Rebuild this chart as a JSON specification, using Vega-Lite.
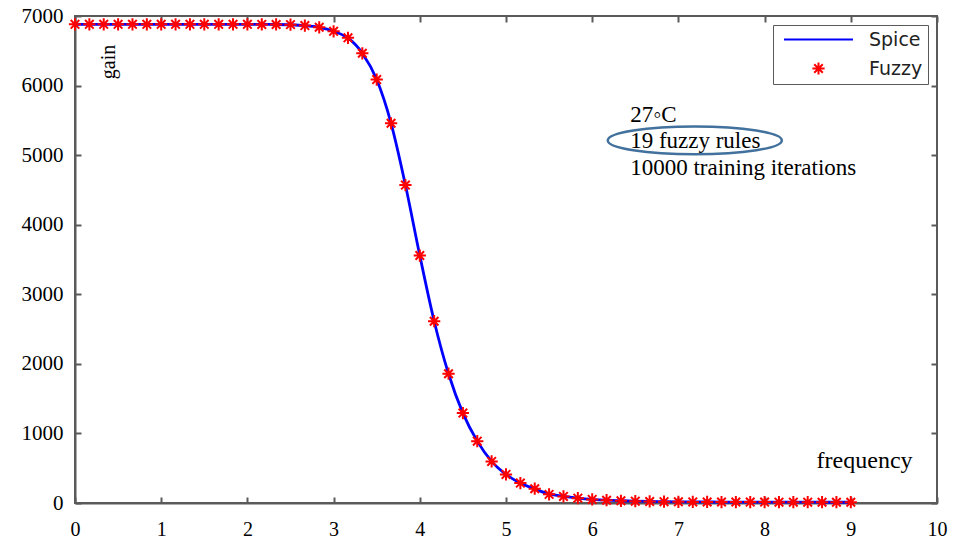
{
  "$schema": "https://vega.github.io/schema/vega-lite/v6.json",
  "width": 862,
  "height": 487,
  "autosize": "none",
  "padding": {"left": 75, "top": 16, "right": 16, "bottom": 38},
  "background": "white",
  "config": {
    "view": {"stroke": "#5a5a5a", "strokeWidth": 2},
    "axis": {
      "domainColor": "#5a5a5a", "domainWidth": 2,
      "tickColor": "#5a5a5a", "tickWidth": 2, "tickSize": -6,
      "grid": false, "labelFont": "Liberation Serif", "labelFontSize": 21,
      "labelColor": "black", "title": null, "labelFlush": false, "labelOverlap": false
    },
    "legend": {
      "orient": "top-right", "offset": 9, "padding": 5,
      "strokeColor": "#5a5a5a", "fillColor": "white", "rowPadding": 8,
      "labelFont": "DejaVu Sans", "labelFontSize": 19, "labelColor": "#222222",
      "symbolStrokeWidth": 2, "symbolSize": 150, "labelOffset": 72
    }
  },
  "datasets": {
    "curve": [
      {"f": 0, "spice": 6880, "fuzzy": 6880},
      {"f": 0.1667, "spice": 6880, "fuzzy": 6880},
      {"f": 0.3333, "spice": 6880, "fuzzy": 6880},
      {"f": 0.5, "spice": 6880, "fuzzy": 6880},
      {"f": 0.6667, "spice": 6880, "fuzzy": 6880},
      {"f": 0.8333, "spice": 6880, "fuzzy": 6880},
      {"f": 1, "spice": 6880, "fuzzy": 6880},
      {"f": 1.1667, "spice": 6880, "fuzzy": 6880},
      {"f": 1.3333, "spice": 6880, "fuzzy": 6880},
      {"f": 1.5, "spice": 6880, "fuzzy": 6880},
      {"f": 1.6667, "spice": 6880, "fuzzy": 6880},
      {"f": 1.8333, "spice": 6880, "fuzzy": 6880},
      {"f": 2, "spice": 6880, "fuzzy": 6880},
      {"f": 2.1667, "spice": 6879, "fuzzy": 6879},
      {"f": 2.3333, "spice": 6878, "fuzzy": 6878},
      {"f": 2.5, "spice": 6874, "fuzzy": 6876},
      {"f": 2.6667, "spice": 6862, "fuzzy": 6862},
      {"f": 2.8333, "spice": 6836, "fuzzy": 6838},
      {"f": 3, "spice": 6780, "fuzzy": 6780},
      {"f": 3.1667, "spice": 6684, "fuzzy": 6686},
      {"f": 3.3333, "spice": 6464, "fuzzy": 6464},
      {"f": 3.5, "spice": 6086, "fuzzy": 6086},
      {"f": 3.6667, "spice": 5458, "fuzzy": 5458},
      {"f": 3.8333, "spice": 4570, "fuzzy": 4570},
      {"f": 4, "spice": 3557, "fuzzy": 3557},
      {"f": 4.1667, "spice": 2613, "fuzzy": 2613},
      {"f": 4.3333, "spice": 1858, "fuzzy": 1858},
      {"f": 4.5, "spice": 1292, "fuzzy": 1292},
      {"f": 4.6667, "spice": 889, "fuzzy": 889},
      {"f": 4.8333, "spice": 598, "fuzzy": 598},
      {"f": 5, "spice": 411, "fuzzy": 411},
      {"f": 5.1667, "spice": 286, "fuzzy": 286},
      {"f": 5.3333, "spice": 200, "fuzzy": 205},
      {"f": 5.5, "spice": 130, "fuzzy": 124},
      {"f": 5.6667, "spice": 95, "fuzzy": 95},
      {"f": 5.8333, "spice": 70, "fuzzy": 70},
      {"f": 6, "spice": 52, "fuzzy": 52},
      {"f": 6.1667, "spice": 40, "fuzzy": 40},
      {"f": 6.3333, "spice": 32, "fuzzy": 32},
      {"f": 6.5, "spice": 26, "fuzzy": 26},
      {"f": 6.6667, "spice": 22, "fuzzy": 22},
      {"f": 6.8333, "spice": 19, "fuzzy": 19},
      {"f": 7, "spice": 17, "fuzzy": 17},
      {"f": 7.1667, "spice": 16, "fuzzy": 16},
      {"f": 7.3333, "spice": 15, "fuzzy": 15},
      {"f": 7.5, "spice": 14, "fuzzy": 14},
      {"f": 7.6667, "spice": 14, "fuzzy": 14},
      {"f": 7.8333, "spice": 13, "fuzzy": 13},
      {"f": 8, "spice": 13, "fuzzy": 13},
      {"f": 8.1667, "spice": 12, "fuzzy": 12},
      {"f": 8.3333, "spice": 12, "fuzzy": 12},
      {"f": 8.5, "spice": 12, "fuzzy": 12},
      {"f": 8.6667, "spice": 11, "fuzzy": 11},
      {"f": 8.8333, "spice": 11, "fuzzy": 11},
      {"f": 9, "spice": 11, "fuzzy": 11}
    ],
    "notes": [
      {"f": 6.44, "gain": 5476, "label": "27◦C"},
      {"f": 6.44, "gain": 5103, "label": "19 fuzzy rules"},
      {"f": 6.44, "gain": 4715, "label": "10000 training iterations"}
    ],
    "freq": [{"f": 9.16, "gain": 503, "label": "frequency"}],
    "ylab": [{"f": 0.464, "gain": 6339, "label": "gain"}],
    "oval": [{"f": 7.19, "gain": 5212}]
  },
  "layer": [
    {
      "data": {"name": "curve"},
      "mark": {"type": "line", "strokeWidth": 2.8, "interpolate": "monotone"},
      "encoding": {
        "x": {"field": "f", "type": "quantitative",
              "scale": {"domain": [0, 10], "nice": false, "zero": false},
              "axis": {"orient": "bottom", "values": [0,1,2,3,4,5,6,7,8,9,10], "labelPadding": 22, "labelFontSize": 20}},
        "y": {"field": "spice", "type": "quantitative",
              "scale": {"domain": [0, 7000], "nice": false},
              "axis": {"orient": "left", "values": [0,1000,2000,3000,4000,5000,6000,7000], "labelPadding": 18, "format": "d"}},
        "color": {"datum": "Spice", "type": "nominal",
                  "scale": {"domain": ["Spice", "Fuzzy"], "range": ["#0000ff", "#ff0000"]},
                  "legend": {"title": null,
                    "encode": {"symbols": {"update": {
                      "size": {"signal": "datum.value === 'Spice' ? 4761 : 150"},
                      "x": {"value": 40.5}
                    }}}}}
      }
    },
    {
      "data": {"name": "curve"},
      "mark": {"type": "point", "filled": false, "strokeWidth": 2, "opacity": 1, "size": 150},
      "encoding": {
        "x": {"field": "f", "type": "quantitative",
              "axis": {"orient": "top", "values": [0,1,2,3,4,5,6,7,8,9,10], "labels": false, "domain": false}},
        "y": {"field": "fuzzy", "type": "quantitative",
              "axis": {"orient": "right", "values": [0,1000,2000,3000,4000,5000,6000,7000], "labels": false, "domain": false}},
        "color": {"datum": "Fuzzy", "type": "nominal", "legend": {"title": null,
                    "encode": {"symbols": {"update": {
                      "size": {"signal": "datum.value === 'Spice' ? 4761 : 150"},
                      "x": {"value": 40.5}
                    }}}}},
        "shape": {"datum": "Fuzzy", "type": "nominal",
                  "scale": {"domain": ["Spice", "Fuzzy"], "range": ["stroke", "M-1,0L1,0M0,-1L0,1M-0.7,-0.7L0.7,0.7M-0.7,0.7L0.7,-0.7"]},
                  "legend": {"title": null,
                    "encode": {"symbols": {"update": {
                      "size": {"signal": "datum.value === 'Spice' ? 4761 : 150"},
                      "x": {"value": 40.5}
                    }}}}}
      }
    },
    {
      "data": {"name": "notes"},
      "mark": {"type": "text", "align": "left", "baseline": "alphabetic", "font": "Liberation Serif", "fontSize": 23, "color": "black"},
      "encoding": {
        "x": {"field": "f", "type": "quantitative", "axis": null},
        "y": {"field": "gain", "type": "quantitative", "axis": null},
        "text": {"field": "label"}
      }
    },
    {
      "data": {"name": "freq"},
      "mark": {"type": "text", "align": "center", "baseline": "alphabetic", "font": "Liberation Serif", "fontSize": 24, "color": "black"},
      "encoding": {
        "x": {"field": "f", "type": "quantitative", "axis": null},
        "y": {"field": "gain", "type": "quantitative", "axis": null},
        "text": {"field": "label"}
      }
    },
    {
      "data": {"name": "ylab"},
      "mark": {"type": "text", "align": "center", "baseline": "alphabetic", "angle": 270, "font": "Liberation Serif", "fontSize": 20, "color": "black"},
      "encoding": {
        "x": {"field": "f", "type": "quantitative", "axis": null},
        "y": {"field": "gain", "type": "quantitative", "axis": null},
        "text": {"field": "label"}
      }
    },
    {
      "data": {"name": "oval"},
      "mark": {"type": "point", "filled": false, "shape": "M-1,0A1,0.16,0,1,0,1,0A1,0.16,0,1,0,-1,0Z", "size": 30276, "stroke": "#41719c", "strokeWidth": 2.5, "opacity": 1},
      "encoding": {
        "x": {"field": "f", "type": "quantitative", "axis": null},
        "y": {"field": "gain", "type": "quantitative", "axis": null}
      }
    }
  ],
  "resolve": {"axis": {"x": "independent", "y": "independent"}}
}
